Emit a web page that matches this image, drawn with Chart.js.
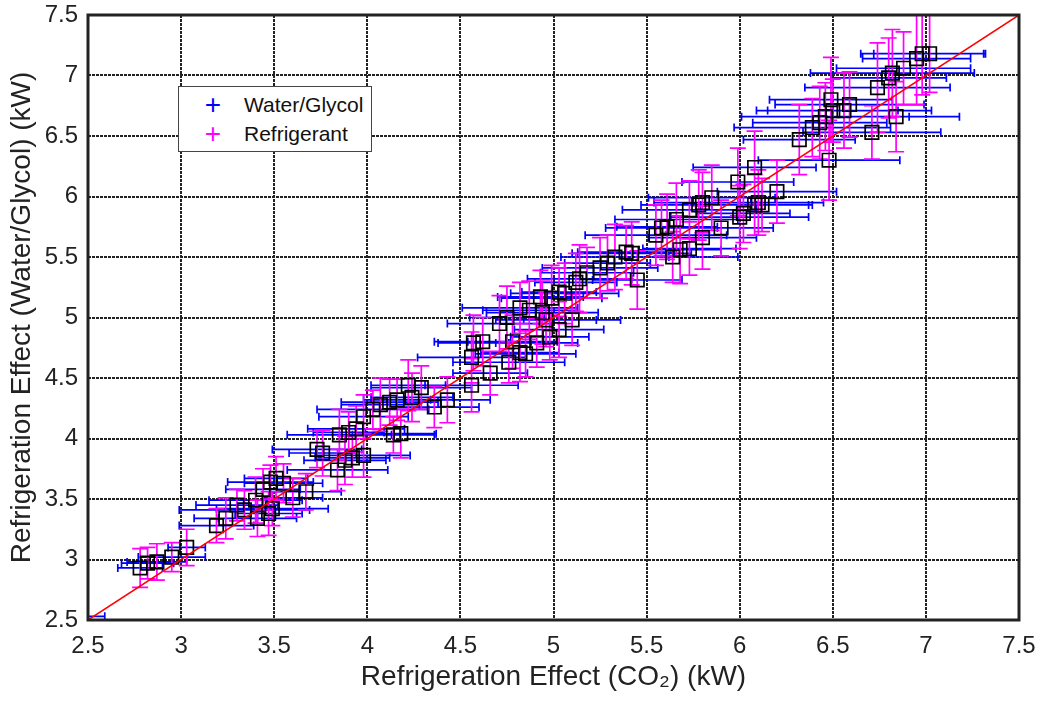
<!DOCTYPE html>
<html>
<head>
<meta charset="utf-8">
<script src="https://cdn.jsdelivr.net/npm/chart.js@4"></script>
<style>
  body { margin: 0; background: #fff; }
  #wrap { position: relative; width: 1038px; height: 702px; }
  #legendBox {
    position: absolute; left: 178px; top: 86px; width: 192px; height: 64px;
    border: 1px solid #444; background: #fff;
    font-family: "Liberation Sans", Arial, sans-serif; font-size: 21px; color: #111;
  }
  .row { position: absolute; left: 0; height: 26px; line-height: 26px; }
  .mk { position: absolute; left: 24px; width: 20px; text-align: center; font-size: 28px; font-weight: 300; }
  .lb { position: absolute; left: 65px; white-space: nowrap; }
</style>
</head>
<body>
<div id="wrap">
  <canvas id="chart" width="1038" height="702"></canvas>
  <div id="legendBox">
    <div class="row" style="top:5px"><span class="mk" style="color:#0000ff">+</span><span class="lb">Water/Glycol</span></div>
    <div class="row" style="top:34px"><span class="mk" style="color:#ff00ff">+</span><span class="lb">Refrigerant</span></div>
  </div>
</div>
<script>
// measured points: CO2 side (x) vs water/glycol side (y), kW
var ptX = [2.46, 2.78, 2.82, 2.87, 2.95, 3.03, 3.19, 3.24, 3.30, 3.34,
           3.41, 3.47, 3.49, 3.60, 3.67, 3.40, 3.44, 3.48, 3.51, 3.55,
           3.73, 3.76, 3.84, 3.88, 3.92, 3.98, 3.85, 3.90, 3.94, 4.14,
           4.18, 3.98, 4.03, 4.07, 4.12, 4.16, 4.22, 4.29, 4.24, 4.36,
           4.43, 4.56, 4.66, 4.56, 4.57, 4.62, 4.76, 4.82, 4.85, 4.78,
           4.91, 4.71, 4.75, 4.82, 4.87, 4.93, 4.99, 5.03, 5.06, 5.10,
           5.03, 4.98, 4.94, 4.96, 5.12, 5.14, 5.18, 5.25, 5.29, 5.33,
           5.39, 5.42, 5.45, 5.64, 5.68, 5.55, 5.58, 5.61, 5.66, 5.73,
           5.80, 5.73, 5.78, 5.80, 5.85, 5.90, 5.99, 6.00, 6.02, 6.08,
           6.08, 6.10, 6.12, 6.20, 6.32, 6.48, 6.39, 6.43, 6.46, 6.49,
           6.59, 6.56, 6.50, 6.71, 6.84, 6.74, 6.80, 6.82, 6.88, 6.95,
           6.98, 7.02];
var ptY = [2.53, 2.93, 2.97, 2.98, 3.02, 3.10, 3.28, 3.34, 3.45, 3.41,
           3.34, 3.38, 3.42, 3.51, 3.56, 3.49, 3.58, 3.64, 3.67, 3.63,
           3.91, 3.88, 3.74, 3.82, 3.84, 3.86, 4.03, 4.05, 4.08, 4.03,
           4.04, 4.18, 4.24, 4.28, 4.30, 4.32, 4.44, 4.42, 4.34, 4.26,
           4.32, 4.44, 4.54, 4.67, 4.79, 4.80, 4.63, 4.71, 4.70, 4.80,
           4.79, 4.95, 5.00, 5.08, 5.06, 5.17, 5.16, 5.21, 5.20, 4.98,
           4.90, 4.84, 5.04, 4.98, 5.29, 5.32, 5.37, 5.41, 5.45, 5.50,
           5.54, 5.53, 5.31, 5.50, 5.56, 5.68, 5.74, 5.75, 5.81, 5.57,
           5.66, 5.89, 5.93, 5.95, 5.99, 5.74, 6.12, 5.83, 5.86, 6.24,
           5.93, 5.95, 5.93, 6.04, 6.47, 6.30, 6.57, 6.61, 6.66, 6.80,
           6.76, 6.71, 6.71, 6.53, 6.66, 6.90, 6.98, 7.02, 7.06, 7.14,
           7.18, 7.18];
// uncertainty half-widths (kW)
var xErr = [0.13, 0.12, 0.14, 0.16, 0.18, 0.10, 0.20, 0.17, 0.22, 0.35,
            0.21, 0.18, 0.30, 0.16, 0.19, 0.25, 0.20, 0.23, 0.17, 0.21,
            0.24, 0.18, 0.27, 0.22, 0.20, 0.25, 0.28, 0.19, 0.26, 0.22,
            0.19, 0.24, 0.30, 0.21, 0.26, 0.18, 0.20, 0.27, 0.22, 0.24,
            0.23, 0.25, 0.20, 0.29, 0.19, 0.26, 0.30, 0.21, 0.27, 0.24,
            0.22, 0.28, 0.20, 0.31, 0.25, 0.23, 0.27, 0.20, 0.29, 0.26,
            0.24, 0.21, 0.30, 0.27, 0.22, 0.28, 0.25, 0.31, 0.23, 0.29,
            0.26, 0.32, 0.24, 0.35, 0.22, 0.38, 0.30, 0.27, 0.33, 0.25,
            0.29, 0.36, 0.31, 0.26, 0.34, 0.28, 0.30, 0.37, 0.25, 0.33,
            0.29, 0.35, 0.27, 0.32, 0.30, 0.38, 0.42, 0.36, 0.45, 0.33,
            0.40, 0.47, 0.35, 0.37, 0.34, 0.39, 0.31, 0.44, 0.36, 0.29,
            0.33, 0.30];
var yErr = [0.10, 0.16, 0.13, 0.15, 0.12, 0.15, 0.14, 0.17, 0.13, 0.16,
            0.15, 0.18, 0.14, 0.16, 0.15, 0.19, 0.17, 0.14, 0.18, 0.16,
            0.15, 0.19, 0.17, 0.20, 0.16, 0.18, 0.21, 0.17, 0.19, 0.15,
            0.20, 0.18, 0.16, 0.22, 0.19, 0.17, 0.21, 0.18, 0.20, 0.17,
            0.19, 0.22, 0.18, 0.21, 0.23, 0.20, 0.17, 0.24, 0.19, 0.22,
            0.20, 0.23, 0.26, 0.21, 0.24, 0.22, 0.27, 0.20, 0.25, 0.21,
            0.23, 0.19, 0.26, 0.22, 0.24, 0.28, 0.21, 0.25, 0.23, 0.27,
            0.22, 0.26, 0.24, 0.21, 0.28, 0.25, 0.23, 0.27, 0.30, 0.22,
            0.26, 0.24, 0.29, 0.25, 0.27, 0.23, 0.28, 0.26, 0.24, 0.30,
            0.25, 0.27, 0.22, 0.26, 0.29, 0.33, 0.24, 0.30, 0.28, 0.35,
            0.27, 0.31, 0.26, 0.22, 0.29, 0.37, 0.33, 0.36, 0.30, 0.38,
            0.34, 0.32];
// 1:1 reference line
var lineX = [2.5, 7.5];
var lineY = [2.5, 7.5];
var axisMin = 2.5, axisMax = 7.5, axisStep = 0.5;

var points = ptX.map(function(x, i){ return {x: x, y: ptY[i]}; });
var linePts = lineX.map(function(x, i){ return {x: x, y: lineY[i]}; });

// draws the error bars under the squares, blue (water/glycol) then magenta (refrigerant)
var errorBars = {
  id: 'errorBars',
  beforeDatasetsDraw: function(chart){
    var ctx = chart.ctx, a = chart.chartArea;
    var sx = chart.scales.x, sy = chart.scales.y;
    ctx.save();
    ctx.beginPath();
    ctx.rect(a.left, a.top, a.right - a.left, a.bottom - a.top);
    ctx.clip();
    ctx.lineWidth = 1.7;
    ctx.strokeStyle = '#0000ff';
    ctx.beginPath();
    for (var i = 0; i < ptX.length; i++){
      var py = sy.getPixelForValue(ptY[i]);
      var x0 = sx.getPixelForValue(ptX[i] - xErr[i]);
      var x1 = sx.getPixelForValue(ptX[i] + xErr[i]);
      ctx.moveTo(x0, py); ctx.lineTo(x1, py);
      ctx.moveTo(x0, py - 4); ctx.lineTo(x0, py + 4);
      ctx.moveTo(x1, py - 4); ctx.lineTo(x1, py + 4);
    }
    ctx.stroke();
    ctx.strokeStyle = '#ff00ff';
    ctx.beginPath();
    for (var j = 0; j < ptX.length; j++){
      var px = sx.getPixelForValue(ptX[j]);
      var y0 = sy.getPixelForValue(ptY[j] - yErr[j]);
      var y1 = sy.getPixelForValue(ptY[j] + yErr[j]);
      ctx.moveTo(px, y0); ctx.lineTo(px, y1);
      ctx.moveTo(px - 8, y0); ctx.lineTo(px + 8, y0);
      ctx.moveTo(px - 8, y1); ctx.lineTo(px + 8, y1);
    }
    ctx.stroke();
    ctx.restore();
  },
  afterDraw: function(chart){
    var ctx = chart.ctx, a = chart.chartArea;
    ctx.save();
    ctx.strokeStyle = '#222';
    ctx.lineWidth = 3;
    ctx.strokeRect(a.left, a.top, a.right - a.left, a.bottom - a.top);
    ctx.restore();
  }
};

Chart.defaults.font.family = '"Liberation Sans", Arial, sans-serif';
Chart.defaults.color = '#222';

function tickText(v){ return String(v); }

new Chart(document.getElementById('chart'), {
  type: 'scatter',
  data: {
    datasets: [{
      type: 'line',
      data: linePts,
      borderColor: '#ff0000',
      borderWidth: 1.5,
      pointRadius: 0,
      order: 0
    }, {
      data: points,
      pointStyle: 'rect',
      pointRadius: 9.5,
      borderColor: '#000',
      borderWidth: 1.7,
      backgroundColor: 'rgba(0,0,0,0)',
      order: 1
    }]
  },
  options: {
    responsive: false,
    animation: false,
    layout: { padding: { top: 15, right: 19, left: 0, bottom: 0 } },
    plugins: { legend: { display: false }, tooltip: { enabled: false } },
    scales: {
      x: {
        min: axisMin, max: axisMax,
        afterFit: function(s){ s.height = 82; s.paddingLeft = 0; s.paddingRight = 0; },
        ticks: { stepSize: axisStep, padding: 12, font: { size: 24 }, maxRotation: 0, callback: tickText },
        grid: { color: '#222', lineWidth: 2, drawTicks: false },
        border: { display: false, dash: [3, 1] },
        title: { display: true, text: 'Refrigeration Effect (CO\u2082) (kW)', font: { size: 28 }, padding: { top: 0, bottom: 8 } }
      },
      y: {
        min: axisMin, max: axisMax,
        afterFit: function(s){ s.width = 88; s.paddingTop = 0; s.paddingBottom = 0; },
        ticks: { stepSize: axisStep, padding: 10, font: { size: 24 }, callback: tickText },
        grid: { color: '#222', lineWidth: 2, drawTicks: false },
        border: { display: false, dash: [3, 1] },
        title: { display: true, text: 'Refrigeration Effect (Water/Glycol) (kW)', font: { size: 28 }, padding: { top: 5, bottom: 0 } }
      }
    }
  },
  plugins: [errorBars]
});
</script>
</body>
</html>
